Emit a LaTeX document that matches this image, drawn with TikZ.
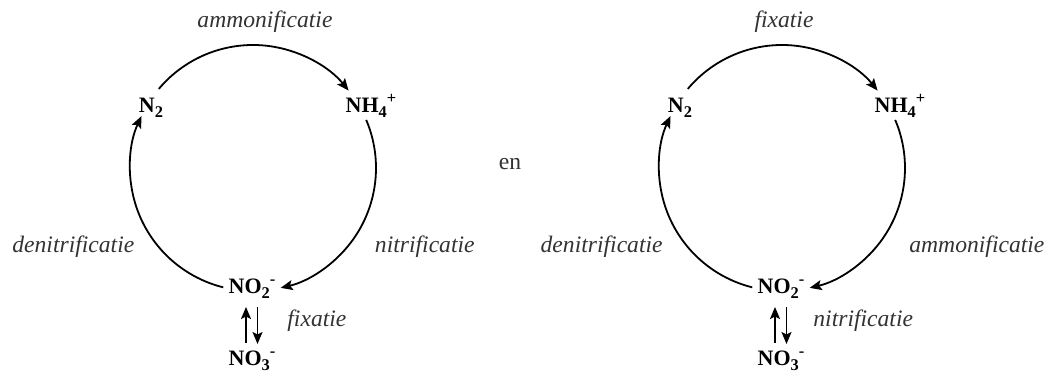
\documentclass[tikz,border=0pt]{standalone}
\usepackage{fontspec}
\setmainfont{Liberation Serif}
\usetikzlibrary{arrows.meta,calc}
\definecolor{labelgray}{HTML}{333333}
\newcommand\chsub[1]{\raisebox{-0.2em}{\fontsize{8.2}{9}\selectfont #1}}
\newcommand\chsup[1]{\raisebox{0.42em}{\fontsize{8.2}{9}\selectfont #1}}
\begin{document}
\begin{tikzpicture}[x=0.5pt,y=0.5pt,
  chem/.style={inner sep=0pt,anchor=base,font=\fontsize{11}{13}\selectfont\bfseries,text=black},
  lbl/.style={inner sep=0pt,font=\fontsize{11.8}{14}\selectfont\itshape,text=labelgray},
  arr/.style={line width=0.9pt,-{Stealth[length=6pt,width=5pt,inset=1.2pt]}}]
\useasboundingbox (0,0) rectangle (1046,374);
% ---------- left cycle ----------
\coordinate (c1) at (253,206);
\node[chem] (n2a) at (151,261) {N\chsub{2}};
\node[chem] (nh4a) at (371,261) {NH\chsub{4}\chsup{+}};
\node[chem] (no2a) at (252,80) {NO\chsub{2}\chsup{-}};
\node[chem] (no3a) at (252,8) {NO\chsub{3}\chsup{-}};
\draw[arr] (c1) ++(140:123) arc[start angle=140,end angle=39,radius=61.5pt];
\draw[arr] (c1) ++(23:123) arc[start angle=23,end angle=-77,radius=61.5pt];
\draw[arr] (c1) ++(-104:123) arc[start angle=-104,end angle=-205,radius=61.5pt];
\draw[arr] ($(no2a.base)+(-6,-49)$) -- ($(no2a.base)+(-6,-13)$);
\draw[arr] ($(no2a.base)+(5.5,-13)$) -- ($(no2a.base)+(5.5,-50)$);
\node[lbl,anchor=base] (l1) at (265,346) {ammonificatie};
\node[lbl,anchor=base west] (l2) at (12,121) {denitrificatie};
\node[lbl,anchor=base east] (l3) at (475,121) {nitrificatie};
\node[lbl,anchor=base west] (l4) at (287,47) {fixatie};
% ---------- middle ----------
\node[inner sep=0pt,anchor=base,font=\fontsize{11.8}{14}\selectfont,text=labelgray] (en) at (510,204) {en};
% ---------- right cycle ----------
\coordinate (c2) at (782,206);
\node[chem] (n2b) at (680,261) {N\chsub{2}};
\node[chem] (nh4b) at (900,261) {NH\chsub{4}\chsup{+}};
\node[chem] (no2b) at (781,80) {NO\chsub{2}\chsup{-}};
\node[chem] (no3b) at (781,8) {NO\chsub{3}\chsup{-}};
\draw[arr] (c2) ++(140:123) arc[start angle=140,end angle=39,radius=61.5pt];
\draw[arr] (c2) ++(23:123) arc[start angle=23,end angle=-77,radius=61.5pt];
\draw[arr] (c2) ++(-104:123) arc[start angle=-104,end angle=-205,radius=61.5pt];
\draw[arr] ($(no2b.base)+(-6,-49)$) -- ($(no2b.base)+(-6,-13)$);
\draw[arr] ($(no2b.base)+(5.5,-13)$) -- ($(no2b.base)+(5.5,-50)$);
\node[lbl,anchor=base] (r1) at (784,346) {fixatie};
\node[lbl,anchor=base east] (r2) at (663,121) {denitrificatie};
\node[lbl,anchor=base west] (r3) at (909,121) {ammonificatie};
\node[lbl,anchor=base west] (r4) at (813,47) {nitrificatie};
\end{tikzpicture}
\end{document}
